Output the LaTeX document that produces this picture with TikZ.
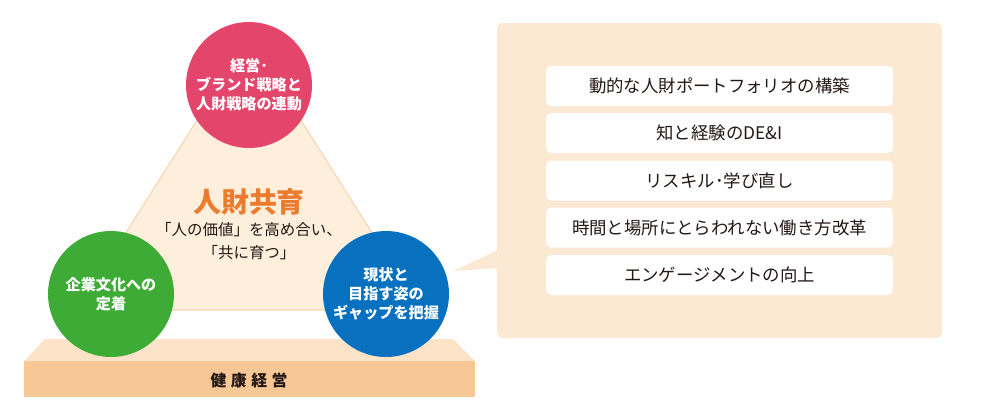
\documentclass[tikz,border=0pt]{standalone}
\usepackage{fontspec}
\setmainfont{Noto Sans CJK JP}
\definecolor{pinkc}{HTML}{E4456B}
\definecolor{greenc}{HTML}{3DAB36}
\definecolor{bluec}{HTML}{0770BF}
\definecolor{orangec}{HTML}{EC7C2D}
\definecolor{panelc}{HTML}{FCE9D4}
\definecolor{trifill}{HTML}{FDEFDC}
\definecolor{triedge}{HTML}{F6D6B2}
\definecolor{basetop}{HTML}{FCE3C7}
\definecolor{basefront}{HTML}{F8C796}
\definecolor{txtc}{HTML}{231815}
\tikzstyle{bubble}=[circle,minimum size=2.52cm,inner sep=0pt,text=white,align=center,font=\fontsize{8.6}{10.8}\selectfont\bfseries]
\tikzstyle{item}=[fill=white,rounded corners=0.1cm,minimum width=6.94cm,minimum height=0.8cm,inner sep=0pt,text=txtc,font=\fontsize{9.9}{12}\selectfont]
\tikzstyle{every node}=[text=txtc]

\begin{document}
\begin{tikzpicture}[x=0.02cm,y=-0.02cm]
    \useasboundingbox (0,0) rectangle (1000,410);
    % base
    \fill[basetop] (45,339)--(453,339)--(475,361)--(24,361)--cycle;
    \fill[basefront] (24,361) rectangle (475,397);
    \node[font=\fontsize{9}{10}\selectfont\bfseries] (health) at (249,380)
      {健\hspace{2.6pt}康\hspace{2.6pt}経\hspace{2.6pt}営};

    % triangle
    \draw[triedge,fill=trifill,line width=0.6pt] (249,38)--(421,310)--(77,310)--cycle;
    \node[text=orangec,font=\fontsize{15.9}{18}\selectfont\bfseries] (title) at (249,202) {人財共育};
    \node[align=center,font=\fontsize{8.8}{13}\selectfont] (sub) at (249,241)
      {「人の価値」を高め合い、\\「共に育つ」};

    % circles
    \node[bubble,fill=pinkc] (top) at (249,85) {経営･\\ブランド戦略と\\人財戦略の連動};
    \node[bubble,fill=greenc] (left) at (111,294) {企業文化への\\定着};
    \node[bubble,fill=bluec] (right) at (386,294) {現状と\\目指す姿の\\ギャップを把握};

    % panel
    \fill[panelc,rounded corners=0.12cm] (497,23) rectangle (942,338);
    \fill[panelc] (498,250)--(453,271)--(498,268)--cycle;

    \node[item] (b1) at (719.5,86) {動的な人財ポートフォリオの構築};
    \node[item] (b2) at (719.5,133) {知と経験のDE\&I};
    \node[item] (b3) at (719.5,180.5) {リスキル･学び直し};
    \node[item] (b4) at (719.5,227.5) {時間と場所にとらわれない働き方改革};
    \node[item] (b5) at (719.5,275) {エンゲージメントの向上};
\end{tikzpicture}
\end{document}
